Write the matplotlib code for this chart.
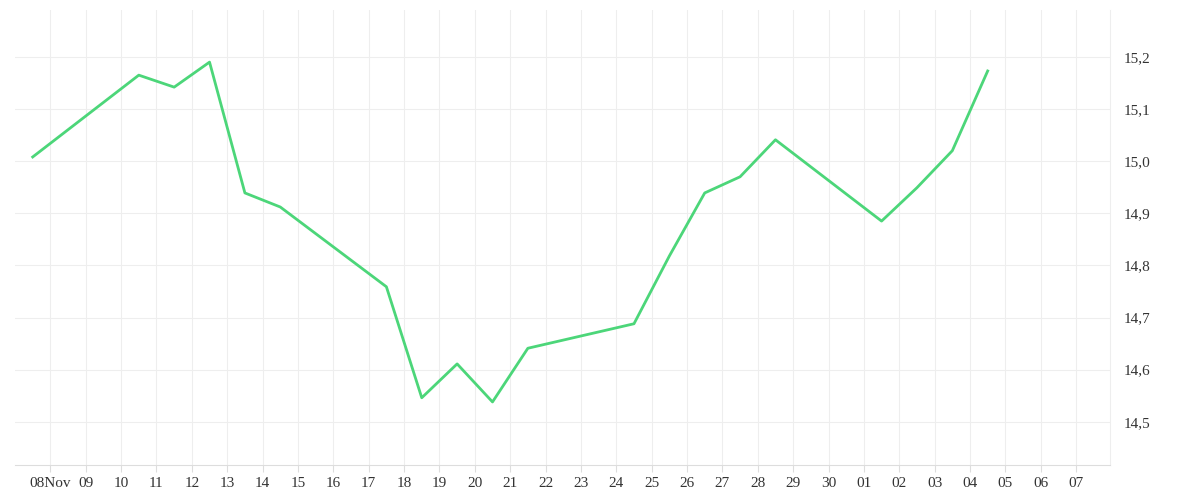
import matplotlib
matplotlib.use("Agg")
import matplotlib.pyplot as plt
import matplotlib.dates as mdates
import numpy as np
import datetime as dt

dates = ["2023-11-07 12:00","2023-11-10 12:00","2023-11-11 12:00","2023-11-12 12:00","2023-11-13 12:00",
         "2023-11-14 12:00","2023-11-17 12:00","2023-11-18 12:00","2023-11-19 12:00","2023-11-20 12:00",
         "2023-11-21 12:00","2023-11-24 12:00","2023-11-25 12:00","2023-11-26 12:00","2023-11-27 12:00",
         "2023-11-28 12:00","2023-12-01 12:00","2023-12-02 12:00","2023-12-03 12:00","2023-12-04 12:00"]
values = [15.008,15.165,15.142,15.190,14.939,14.912,14.759,14.546,14.611,14.538,
          14.641,14.688,14.818,14.939,14.970,15.041,14.885,14.949,15.020,15.173]
yticks = [14.5,14.6,14.7,14.8,14.9,15.0,15.1,15.2]

x = [dt.datetime.strptime(d, "%Y-%m-%d %H:%M") for d in dates]
plt.rcParams['font.family'] = ['Liberation Serif', 'DejaVu Serif']
fig = plt.figure(figsize=(12, 5), dpi=100)
ax = fig.add_axes([15/1200, 35/500, 1095/1200, 455/500])
ax.plot(x, values, color="#4cd679", lw=2)
ax.set_xlim(dt.datetime(2023,11,7), dt.datetime(2023,12,7,23))
ax.set_ylim(14.417, 15.29)
ax.yaxis.tick_right()
ax.set_yticks(yticks)
ax.set_yticklabels([f"{v:.1f}".replace(".", ",") for v in yticks])
ticks = [dt.datetime(2023,11,8) + dt.timedelta(days=i) for i in range(30)]
ax.set_xticks(ticks)
ax.set_xticklabels(["08Nov"] + [t.strftime("%d") for t in ticks[1:]])
ax.grid(True, color="#eeeeee", lw=0.8)
for s in ["top", "left"]:
    ax.spines[s].set_visible(False)
ax.spines["bottom"].set_color("#dddddd")
ax.spines["right"].set_color("#eeeeee")
ax.tick_params(axis="both", colors="#dddddd", labelcolor="#333333", labelsize=11, length=5)
ax.tick_params(axis="y", length=0, pad=10)
fig.savefig("out.png")
